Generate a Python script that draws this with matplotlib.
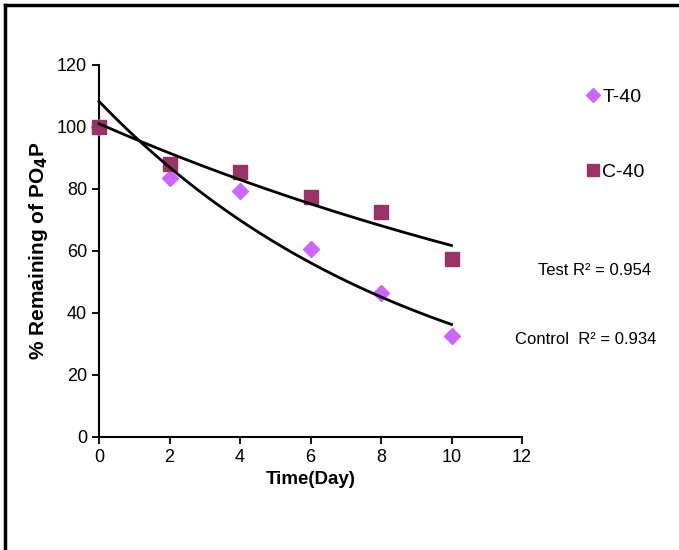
"""Remaining PO4P over time with exponential trendlines."""

import matplotlib
matplotlib.use("Agg")
import matplotlib.pyplot as plt
import numpy as np

days = [0, 2, 4, 6, 8, 10]
test_t40 = [100, 83.5, 79.5, 60.5, 46.5, 32.5]
control_c40 = [100, 88, 85.5, 77.5, 72.5, 57.5]
r2_labels = ["Test R² = 0.954", "Control  R² = 0.934"]

x_ticks = [0, 2, 4, 6, 8, 10, 12]
y_ticks = [0, 20, 40, 60, 80, 100, 120]

plt.rcParams["font.family"] = ["Liberation Sans", "DejaVu Sans"]


def exp_fit(x, y):
	x = np.asarray(x, dtype=float)
	b, a = np.polyfit(x, np.log(y), 1)
	xs = np.linspace(x.min(), x.max(), 200)
	return xs, np.exp(a + b * xs)


fig = plt.figure(figsize=(6.79, 5.5), dpi=100)
ax = fig.add_axes([0.1458, 0.2055, 0.623, 0.6764])

ax.plot(days, test_t40, linestyle="none", marker="D", markersize=8.5,
	color="#cc66ff", label="T-40", zorder=3, clip_on=False)
ax.plot(days, control_c40, linestyle="none", marker="s", markersize=10,
	color="#993366", label="C-40", zorder=3, clip_on=False)

for series in (test_t40, control_c40):
	xs, ys = exp_fit(days, series)
	ax.plot(xs, ys, color="black", linewidth=2, zorder=4, clip_on=False)

ax.set_xlim(0, 12)
ax.set_ylim(0, 120)
ax.set_xticks(x_ticks)
ax.set_yticks(y_ticks)
ax.tick_params(direction="out", length=5, width=1.3, colors="black", labelsize=13)
for side in ("top", "right"):
	ax.spines[side].set_visible(False)
for side in ("left", "bottom"):
	ax.spines[side].set_linewidth(1.5)

ax.set_xlabel("Time(Day)", fontsize=13.5, fontweight="bold", labelpad=4)
ax.set_ylabel("% Remaining of PO$_\\mathbf{4}$P", fontsize=15, fontweight="bold", labelpad=5)

ax.legend(loc="upper left", bbox_to_anchor=(1.105, 0.985), frameon=False,
	labelspacing=2.95, handletextpad=0.05, handlelength=0.9,
	prop={"size": 14}, markerscale=0.8)

fig.text(0.876, 0.508, r2_labels[0], ha="center", va="center", fontsize=12)
fig.text(0.862, 0.383, r2_labels[1], ha="center", va="center", fontsize=12)

# outer frame: top and left edges only
fig.add_artist(plt.Line2D([0.008, 0.008], [0.0, 0.991], transform=fig.transFigure,
	color="black", linewidth=2.5))
fig.add_artist(plt.Line2D([0.008, 1.0], [0.991, 0.991], transform=fig.transFigure,
	color="black", linewidth=2.5))

fig.savefig("out.png", dpi=100)
